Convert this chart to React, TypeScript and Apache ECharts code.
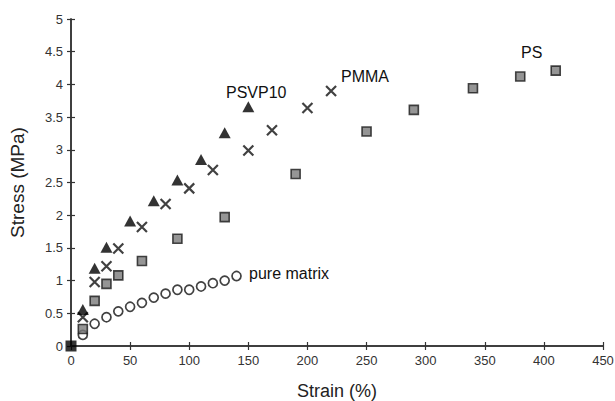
import React, { useEffect, useRef } from "react";
import * as echarts from "echarts";

const psvp10Strain = [10, 20, 30, 50, 70, 90, 110, 130, 150];
const psvp10Stress = [0.56, 1.19, 1.51, 1.91, 2.22, 2.54, 2.85, 3.26, 3.66];

const pmmaStrain = [10, 20, 30, 40, 60, 80, 100, 120, 150, 170, 200, 220];
const pmmaStress = [0.44, 0.98, 1.22, 1.49, 1.82, 2.17, 2.41, 2.69, 2.99, 3.3, 3.64, 3.9];

const psStrain = [10, 20, 30, 40, 60, 90, 130, 190, 250, 290, 340, 380, 410];
const psStress = [0.26, 0.69, 0.95, 1.08, 1.3, 1.64, 1.97, 2.63, 3.28, 3.61, 3.94, 4.12, 4.21];

const matrixStrain = [10, 20, 30, 40, 50, 60, 70, 80, 90, 100, 110, 120, 130, 140];
const matrixStress = [0.17, 0.34, 0.44, 0.53, 0.6, 0.66, 0.74, 0.8, 0.86, 0.86, 0.91, 0.96, 1.0, 1.07];

const originPoint = [[0, 0]];

const FONT = "Liberation Sans, Arial, sans-serif";

const zip = (xs: number[], ys: number[]) => xs.map((x, i) => [x, ys[i]]);

export default function App() {
  const ref = useRef<HTMLDivElement>(null);
  useEffect(() => {
    if (!ref.current) return;
    const chart = echarts.init(ref.current, undefined, { renderer: "svg" });
    const axisLine = { show: true, lineStyle: { color: "#333", width: 1.5 } };
    const baseX = {
      type: "value" as const,
      min: 0,
      max: 450,
      interval: 50,
      splitLine: { show: false },
      axisLine,
    };
    const baseY = {
      type: "value" as const,
      min: 0,
      max: 5,
      interval: 0.5,
      splitLine: { show: false },
      axisLine,
    };
    chart.setOption({
      animation: false,
      backgroundColor: "#fff",
      grid: { left: 71, right: 12, top: 19, bottom: 55, containLabel: false, outerBoundsMode: "none" },
      xAxis: [
        {
          ...baseX,
          name: "Strain (%)",
          nameLocation: "middle",
          nameGap: 36,
          nameTextStyle: { fontFamily: FONT, fontSize: 18, lineHeight: 18, color: "#222" },
          axisTick: { show: true, inside: false, length: 4, lineStyle: { color: "#333", width: 1.2 } },
          axisLabel: { fontFamily: FONT, fontSize: 13, color: "#333", margin: 8 },
        },
        {
          ...baseX,
          position: "bottom",
          axisTick: { show: true, inside: true, length: 4, lineStyle: { color: "#333", width: 1.2 } },
          axisLabel: { show: false },
        },
      ],
      yAxis: [
        {
          ...baseY,
          name: "Stress (MPa)",
          nameLocation: "middle",
          nameGap: 44,
          nameTextStyle: { fontFamily: FONT, fontSize: 19, color: "#222" },
          axisTick: { show: true, inside: false, length: 4, lineStyle: { color: "#333", width: 1.2 } },
          axisLabel: { fontFamily: FONT, fontSize: 13, color: "#333", margin: 8 },
        },
        {
          ...baseY,
          position: "left",
          axisTick: { show: true, inside: true, length: 4, lineStyle: { color: "#333", width: 1.2 } },
          axisLabel: { show: false },
        },
      ],
      series: [
        {
          type: "scatter",
          name: "pure matrix",
          data: zip(matrixStrain, matrixStress),
          symbol: "circle",
          symbolSize: 9,
          itemStyle: { color: "#fff", borderColor: "#111", borderWidth: 1.7 },
        },
        {
          type: "scatter",
          name: "PS",
          data: zip(psStrain, psStress),
          symbol: "rect",
          symbolSize: 9,
          itemStyle: { color: "#7a7a7a", borderColor: "#1a1a1a", borderWidth: 1.6 },
        },
        {
          type: "scatter",
          name: "PMMA",
          data: zip(pmmaStrain, pmmaStress),
          symbol: "path://M0,0L10,10M10,0L0,10",
          symbolSize: 10,
          itemStyle: { color: "none", borderColor: "#111", borderWidth: 2.2 },
        },
        {
          type: "scatter",
          name: "PSVP10",
          data: zip(psvp10Strain, psvp10Stress),
          symbol: "triangle",
          symbolSize: [12, 11],
          itemStyle: { color: "#000" },
        },
        {
          type: "scatter",
          name: "origin",
          data: originPoint,
          symbol: "rect",
          symbolSize: 11,
          itemStyle: { color: "#000" },
        },
      ],
      graphic: [
        { type: "text", left: 226, top: 84, style: { text: "PSVP10", font: `16px ${FONT}`, fill: "#111" } },
        { type: "text", left: 341, top: 68, style: { text: "PMMA", font: `16px ${FONT}`, fill: "#111" } },
        { type: "text", left: 521, top: 44, style: { text: "PS", font: `16px ${FONT}`, fill: "#111" } },
        { type: "text", left: 249, top: 265, style: { text: "pure matrix", font: `16px ${FONT}`, fill: "#111" } },
      ],
    });
    return () => chart.dispose();
  }, []);
  return <div ref={ref} style={{ width: 615, height: 401, position: "absolute", left: 0, top: 0 }} />;
}
